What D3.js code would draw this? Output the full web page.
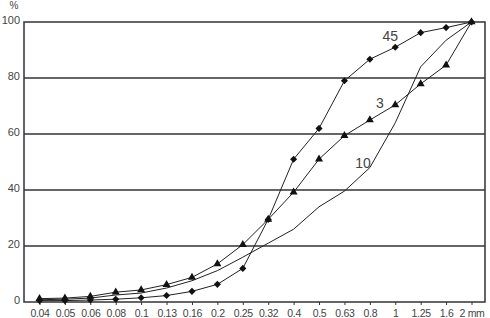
<!DOCTYPE html>
<html>
<head>
<meta charset="utf-8">
<script src="https://cdn.jsdelivr.net/npm/d3@7/dist/d3.min.js"></script>
<style>
  body { margin: 0; background: #fff; }
  svg { display: block; font-family: "Liberation Sans", Arial, sans-serif; }
</style>
</head>
<body>
<div class="chart"></div>
<script>
"use strict";
// sieve sizes, mm
const sizes = ["0.04", "0.05", "0.06", "0.08", "0.1", "0.13", "0.16", "0.2", "0.25",
    "0.32", "0.4", "0.5", "0.63", "0.8", "1", "1.25", "1.6", "2"];
// passing, %
const s45 = [0.5, 0.5, 0.7, 1, 1.5, 2.3, 3.8, 6.3, 12, 29.5, 51, 62, 79, 86.7, 91, 96.2, 98, 100];
const s3 = [1.2, 1.4, 2, 3.5, 4.3, 6.2, 8.8, 13.6, 20.5, 29.5, 39.2, 51, 59.4, 65, 70.4, 77.9, 84.6, 100];
const s10 = [0.8, 1, 1.4, 2.5, 3.2, 5, 7.6, 11.2, 16, 21, 26, 34, 39.6, 48, 64, 84, 93.5, 100];
const yTicks = [0, 20, 40, 60, 80, 100];
// curve names and the point each name sits next to
const curveNames = ["45", "3", "10"];
const nameAt = ["1", "0.8", "0.8"];
const nameValue = [91, 65, 48];

const W = 490, H = 318;
const frame = {left: 24, right: 485, top: 22, bottom: 302};
const ink = "#222", txt = "#444";

let svg = d3.select(".chart").append("svg")
    .attr("width", W)
    .attr("height", H);

let x = d3.scalePoint().domain(sizes).range([39.5, 471.5]);
let y = d3.scaleLinear().domain([0, 100]).range([frame.bottom, frame.top]);

// gridlines
svg.append("g")
    .selectAll("line")
    .data(yTicks.filter(d => d > 0 && d < 100))
    .enter().append("line")
    .attr("x1", frame.left).attr("x2", frame.right)
    .attr("y1", d => y(d)).attr("y2", d => y(d))
    .style("stroke", "#333")
    .style("stroke-width", "1.4px");

// frame
svg.append("rect")
    .attr("x", frame.left).attr("y", frame.top)
    .attr("width", frame.right - frame.left)
    .attr("height", frame.bottom - frame.top)
    .style("fill", "none")
    .style("stroke", "#333")
    .style("stroke-width", "1.5px");

// axes
let xAxis = d3.axisBottom(x)
    .tickSize(3)
    .tickPadding(5)
    .tickFormat(d => d === "2" ? "2 mm" : d);
let gx = svg.append("g")
    .attr("transform", "translate(0," + frame.bottom + ")")
    .call(xAxis);
gx.select(".domain").remove();
gx.selectAll("line").style("stroke", "#333");
gx.selectAll("text")
    .style("fill", txt)
    .style("font-size", "10.5px")
    .style("letter-spacing", "-0.3px");

let yAxis = d3.axisLeft(y).tickValues(yTicks).tickSize(0).tickPadding(4);
let gy = svg.append("g")
    .attr("transform", "translate(" + frame.left + ",0)")
    .call(yAxis);
gy.select(".domain").remove();
gy.selectAll("text")
    .attr("dy", "0.15em")
    .style("fill", txt)
    .style("font-size", "11px");

svg.append("text")
    .attr("x", 14).attr("y", 9)
    .attr("text-anchor", "middle")
    .style("fill", txt)
    .style("font-size", "10px")
    .text("%");

// curves
let line = d3.line()
    .x((d, i) => x(sizes[i]))
    .y(d => y(d));

[s45, s3, s10].forEach(s => {
    svg.append("path")
        .attr("d", line(s))
        .style("fill", "none")
        .style("stroke", ink)
        .style("stroke-width", "1px");
});

svg.append("g").selectAll("path")
    .data(s45)
    .enter().append("path")
    .attr("d", d3.symbol().type(d3.symbolSquare).size(25))
    .attr("transform", (d, i) => "translate(" + x(sizes[i]) + "," + y(d) + ") rotate(45)")
    .style("fill", "#111");

svg.append("g").selectAll("path")
    .data(s3)
    .enter().append("path")
    .attr("d", d3.symbol().type(d3.symbolTriangle).size(28))
    .attr("transform", (d, i) => "translate(" + x(sizes[i]) + "," + y(d) + ")")
    .style("fill", "#111");

// curve names
const nameOffset = [[-5, -6, "middle"], [10, -12, "middle"], [1, 0, "end"]];
curveNames.forEach((name, i) => {
    svg.append("text")
        .attr("x", x(nameAt[i]) + nameOffset[i][0])
        .attr("y", y(nameValue[i]) + nameOffset[i][1])
        .attr("text-anchor", nameOffset[i][2])
        .style("fill", txt)
        .style("font-size", "14px")
        .text(name);
});
</script>
</body>
</html>
